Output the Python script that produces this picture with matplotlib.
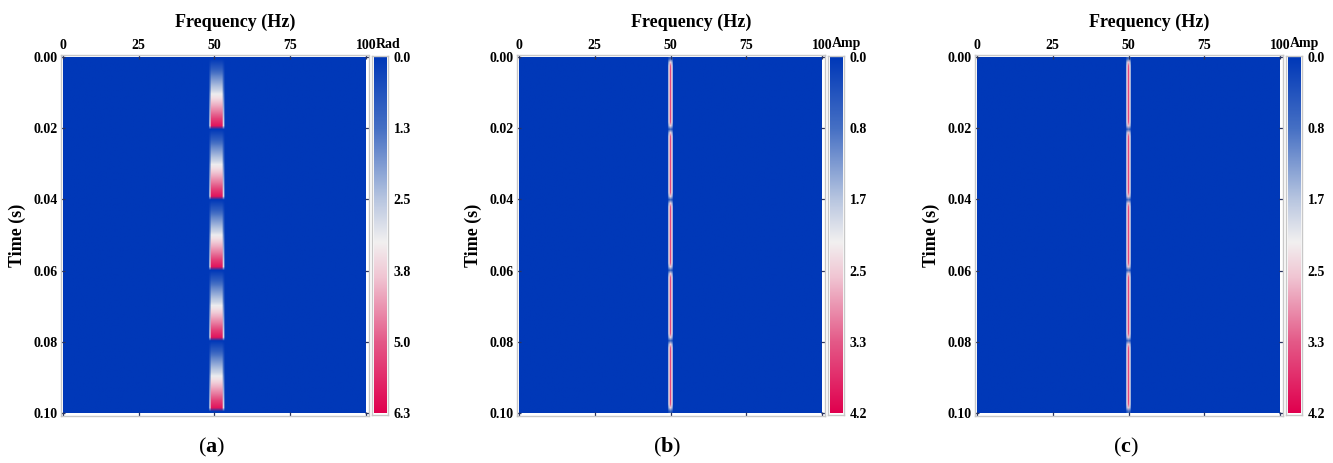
import numpy as np
import matplotlib
matplotlib.use('Agg')
import matplotlib.pyplot as plt
from matplotlib.colors import LinearSegmentedColormap

plt.rcParams['font.family'] = ['Liberation Serif', 'DejaVu Serif']
plt.rcParams['font.weight'] = 'bold'
plt.rcParams['mathtext.fontset'] = 'custom'
plt.rcParams['mathtext.rm'] = 'Liberation Serif'
plt.rcParams['mathtext.bf'] = 'Liberation Serif:bold'

# ---- data ----
freq_hz = np.arange(0, 201) * 0.5        # 0.5 Hz bins
time_s = np.arange(0, 101) * 0.001       # 1 ms rows
n_segments = 5                           # 0.02 s segments

# (a) phase inside one segment, rad
phase_seg = [0.0, 0.3, 0.6, 0.9, 1.3, 1.6, 1.9, 2.2, 2.5, 2.8,
             3.2, 3.5, 3.8, 4.1, 4.4, 4.7, 5.0, 5.4, 5.7, 6.0]
phase_band_hz = [48.5, 49.0, 49.5, 50.0, 50.5, 51.0, 51.5, 52.0, 52.5, 53.0]
phase_band_w = [0.5, 1, 1, 1, 1, 1, 1, 1, 1, 0.5]

# (b), (c) amplitude envelope inside one segment, line around 50 Hz
amp_env_b = [0.2, 0.7, 0.95, 1, 1, 1, 1, 1, 1, 1,
             1, 1, 1, 1, 1, 1, 1, 1, 0.95, 0.7]
amp_env_c = [0.25, 0.75, 0.95, 1, 1, 1, 1, 1, 1, 1,
             1, 1, 1, 1, 1, 1, 1, 1, 0.95, 0.75]
amp_line_hz = [49.5, 50.0, 50.5]
amp_line_vals = [2.2, 3.5, 2.2]

x_ticks = [0, 25, 50, 75, 100]
y_ticks = [0.00, 0.02, 0.04, 0.06, 0.08, 0.10]
rad_ticks = [0.0, 1.26, 2.52, 3.78, 5.04, 6.3]
rad_labels = ['0.0', '1.3', '2.5', '3.8', '5.0', '6.3']
amp_ticks = [0.0, 0.83, 1.66, 2.49, 3.32, 4.15]
amp_labels = ['0.0', '0.8', '1.7', '2.5', '3.3', '4.2']


def build_field(seg_vals, band_hz, band_vals):
    field = np.zeros((len(time_s), len(freq_hz)))
    column = np.concatenate([np.tile(seg_vals, n_segments), [seg_vals[0]]])
    for f, v in zip(band_hz, band_vals):
        field[:, int(round(f * 2))] = column * v
    return field


phase_field = build_field(phase_seg, phase_band_hz, phase_band_w)
amp_field_b = build_field(amp_env_b, amp_line_hz, amp_line_vals)
amp_field_c = build_field(amp_env_c, amp_line_hz, amp_line_vals)

cmap = LinearSegmentedColormap.from_list('bwr_seis', [
    (0.0, '#0038B8'), (0.2, '#4670C4'), (0.4, '#B8C6E0'),
    (0.52, '#F2F0F0'), (0.62, '#F0C4D2'), (0.8, '#E45A88'), (1.0, '#E0004E')])

panels = [
    ('a', phase_field, 6.3, 'Rad', rad_ticks, rad_labels, 63),
    ('b', amp_field_b, 4.15, 'Amp', amp_ticks, amp_labels, 519),
    ('c', amp_field_c, 4.15, 'Amp', amp_ticks, amp_labels, 977),
]

W, H = 1333, 463
fig = plt.figure(figsize=(W / 100, H / 100), dpi=100)


def px(l, t, r, b):
    return [l / W, 1 - b / H, (r - l) / W, (b - t) / H]


img_w, img_top, img_bot = 303, 57, 413
pad = 2.5
frame_col = '#c8c8c8'
tick_col = '#2a3560'

for tag, field, vmax, unit, cticks, clabels, left in panels:
    right = left + img_w
    ax = fig.add_axes(px(left - pad, img_top - pad, right + pad, img_bot + pad))
    ax.imshow(field, cmap=cmap, vmin=0, vmax=vmax, aspect='auto',
              interpolation='bilinear', extent=(0, 100, 0.1, 0.0))
    ax.set_xlim(-pad / img_w * 100, 100 + pad / img_w * 100)
    ax.set_ylim(0.1 + pad / (img_bot - img_top) * 0.1, -pad / (img_bot - img_top) * 0.1)
    ax.set_xticks(x_ticks)
    ax.set_xticklabels([str(v) for v in x_ticks])
    ax.set_yticks(y_ticks)
    ax.set_yticklabels([f'{v:.2f}' for v in y_ticks])
    ax.tick_params(axis='both', which='both', direction='in', length=3, width=0.9,
                   color=tick_col, labelsize=10, pad=2,
                   top=True, bottom=True, left=True, right=True,
                   labeltop=True, labelbottom=False)
    for s in ax.spines.values():
        s.set_color(frame_col)
        s.set_linewidth(1.0)

    # colorbar
    cax = fig.add_axes(px(right + 6, img_top - 1.5, right + 22, img_bot + 1.5))
    grad = np.linspace(0, vmax, 256)[:, None]
    cax.imshow(grad, cmap=cmap, vmin=0, vmax=vmax, aspect='auto',
               extent=(0, 1, vmax, 0.0))
    cax.set_xlim(-0.12, 1.12)
    cax.set_ylim(vmax + vmax * 0.005, -vmax * 0.005)
    cax.set_xticks([])
    cax.set_yticks(cticks)
    cax.set_yticklabels(clabels)
    cax.yaxis.tick_right()
    cax.tick_params(axis='y', length=0, labelsize=10, pad=4)
    for s in cax.spines.values():
        s.set_color(frame_col)
        s.set_linewidth(1.0)

    cx = (left + right) / 2
    fig.text((right + 10) / W, 1 - 44 / H, unit, fontsize=10, ha='left', va='center')
    fig.text((cx + 21) / W, 1 - 22 / H, 'Frequency (Hz)', fontsize=13,
             ha='center', va='center')
    fig.text((left - 46) / W, 1 - 235 / H, 'Time (s)', fontsize=13,
             ha='center', va='center', rotation=90)
    fig.text((cx - 3) / W, 1 - 447 / H, '(' + r'$\mathbf{' + tag + '}$' + ')',
             fontsize=16, fontweight='normal', ha='center', va='center')

fig.savefig('out.png', dpi=100)
